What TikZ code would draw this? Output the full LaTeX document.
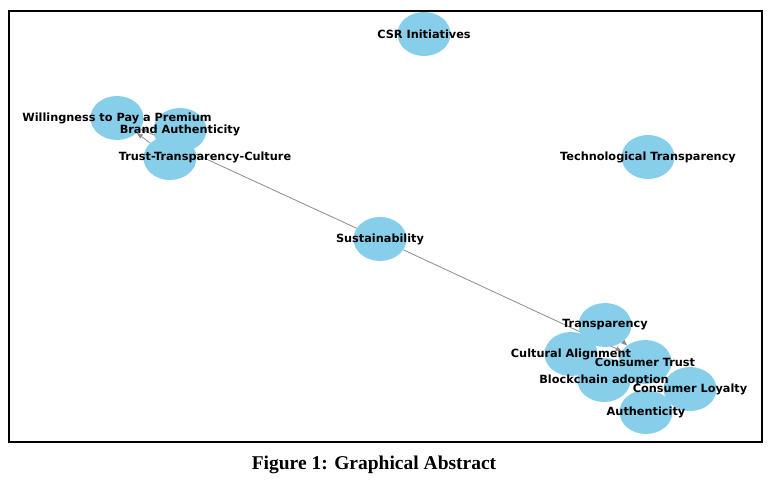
\documentclass[tikz,border=0pt]{standalone}
\usepackage{fontspec}
\setmainfont{Liberation Serif}
\newfontfamily\dejavu{DejaVu Sans}
\usepackage{xcolor}
\definecolor{skyblue}{RGB}{135,206,235}
\definecolor{edgegray}{RGB}{140,140,140}
\tikzset{bubble/.style={ellipse,fill=skyblue,minimum width=53pt,minimum height=44pt,inner sep=0pt},
 tag/.style={font=\dejavu\bfseries\fontsize{11.3}{13}\selectfont,inner sep=0pt},
 link/.style={draw=edgegray,line width=0.8pt,-{Triangle[length=6pt,width=4.5pt]}},
 }
\usetikzlibrary{arrows.meta}
\usetikzlibrary{backgrounds}
\usetikzlibrary{shapes.geometric}

\begin{document}
\begin{tikzpicture}[x=1pt,y=-1pt]
        \useasboundingbox (0,0) rectangle (772,489);
        \draw[line width=1.2pt] (9,11) rectangle (762,442);

        \node[bubble] (csr) at (424,34) {};
        \node[bubble] (wtp) at (117,118) {};
        \node[bubble] (ba) at (180,130) {};
        \node[bubble] (ttc) at (170,158) {};
        \node[bubble] (tt) at (648,157) {};
        \node[bubble] (sus) at (380,239) {};
        \node[bubble] (tra) at (605,325) {};
        \node[bubble] (ca) at (571,354) {};
        \node[bubble] (ct) at (645,362) {};
        \node[bubble] (bc) at (604,380) {};
        \node[bubble] (cl) at (690,389) {};
        \node[bubble] (au) at (646,412) {};

        \begin{scope}[on background layer]
        \draw[link] (sus) -- (wtp);
        \draw[link] (ttc) -- (wtp);
        \draw[link] (sus) -- (ct);
        \draw[link] (tra) -- (ct);
        \end{scope}

        \node[tag] (csrt) at (csr) {CSR Initiatives};
        \node[tag] (wtpt) at (wtp) {Willingness to Pay a Premium};
        \node[tag] (bat) at (ba) {Brand Authenticity};
        \node[tag] (ttct) at (205,157) {Trust-Transparency-Culture};
        \node[tag] (ttt) at (tt) {Technological Transparency};
        \node[tag] (sust) at (sus) {Sustainability};
        \node[tag] (trat) at (tra) {Transparency};
        \node[tag] (cat) at (ca) {Cultural Alignment};
        \node[tag] (ctt) at (ct) {Consumer Trust};
        \node[tag] (bct) at (bc) {Blockchain adoption};
        \node[tag] (clt) at (cl) {Consumer Loyalty};
        \node[tag] (aut) at (au) {Authenticity};

        \node[font=\bfseries\fontsize{19.5}{22}\selectfont] (cap) at (374,465) {Figure 1: Graphical Abstract};
\end{tikzpicture}
\end{document}
